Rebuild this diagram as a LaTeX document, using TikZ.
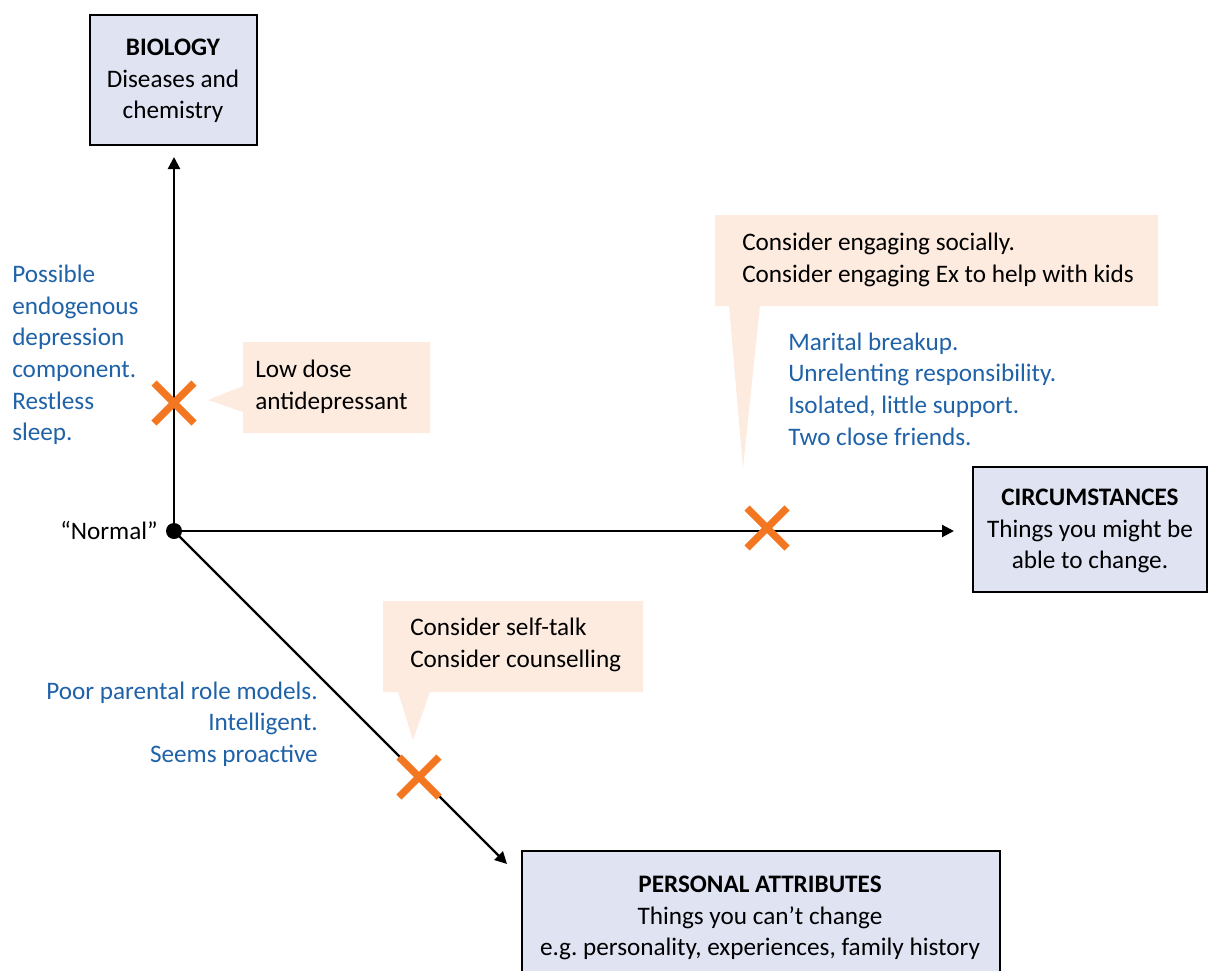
\documentclass[tikz,border=0pt]{standalone}
\usepackage{fontspec}
\setmainfont{Carlito}
\usetikzlibrary{arrows.meta,calc}
\definecolor{boxfill}{HTML}{DFE3F2}
\definecolor{callfill}{HTML}{FDEBDF}
\definecolor{xorange}{HTML}{F37621}
\definecolor{noteblue}{HTML}{1F62A8}
\tikzset{
  x=0.75pt, y=-0.75pt,
  txt/.style={font=\fontsize{18.9}{23.7}\selectfont, inner sep=0pt},
  catbox/.style={draw=black, line width=1.6pt, fill=boxfill},
  axis/.style={line width=1.6pt, -{Triangle[length=9pt,width=9pt]}},
  callout/.style={fill=callfill, draw=none},
  xmark/.style={draw=xorange, line width=5.5pt},
  note/.style={txt, text=noteblue, align=left},
}
\newcommand{\xcross}[1]{\draw[xmark] ($(#1)+(-20,-20)$) -- ($(#1)+(20,20)$) ($(#1)+(-20,20)$) -- ($(#1)+(20,-20)$);}
\begin{document}
\begin{tikzpicture}
\useasboundingbox (0,0) rectangle (1208,971);
% category boxes
\draw[catbox] (90,15) rectangle (257,145);
\node[txt, align=center] (bio) at (173,81) {\textbf{BIOLOGY}\\Diseases and\\chemistry};
\draw[catbox] (973,467) rectangle (1207,592);
\node[txt, align=center] (circ) at (1090,531) {\textbf{CIRCUMSTANCES}\\Things you might be\\able to change.};
\draw[catbox] (522,851) rectangle (1000,975);
\node[txt, align=center] (pers) at (760,918) {\textbf{PERSONAL ATTRIBUTES}\\Things you can’t change\\e.g.\ personality, experiences, family history};
% callouts
\path[callout] (243,342) -- (430,342) -- (430,433) -- (243,433) -- (243,412) -- (208,400) -- (243,386) -- cycle;
\path[callout] (715,215) -- (1158,215) -- (1158,306) -- (760,306) -- (743,468) -- (729,306) -- (715,306) -- cycle;
\path[callout] (383,601) -- (643,601) -- (643,692) -- (430,692) -- (413,740) -- (398,692) -- (383,692) -- cycle;
\node[txt, align=left, anchor=west] (c1) at (255,387) {Low dose\\antidepressant};
\node[txt, align=left, anchor=west] (c2) at (742,260) {Consider engaging socially.\\Consider engaging Ex to help with kids};
\node[txt, align=left, anchor=west] (c3) at (410,645) {Consider self-talk\\Consider counselling};
% axes
\node[circle, fill=black, inner sep=0pt, minimum size=12pt] (O) at (174,531) {};
\coordinate (bioTip) at (174,157);
\coordinate (circTip) at (954,531);
\coordinate (persTip) at (507,864);
\draw[axis] (O.center) -- (bioTip);
\draw[axis] (O.center) -- (circTip);
\draw[axis] (O.center) -- (persTip);
\node[txt, anchor=east] (normal) at (158,531) {“Normal”};
% crosses
\coordinate (x1) at (174,403);
\coordinate (x2) at (767,528);
\coordinate (x3) at (419,777);
\xcross{x1}
\xcross{x2}
\xcross{x3}
% notes
\node[note, anchor=west] (n1) at (12,355) {Possible\\endogenous\\depression\\component.\\Restless\\sleep.};
\node[note, anchor=west] (n2) at (788,389) {Marital breakup.\\Unrelenting responsibility.\\Isolated, little support.\\Two close friends.};
\node[note, align=right, anchor=east] (n3) at (318,724) {Poor parental role models.\\Intelligent.\\Seems proactive};
\end{tikzpicture}
\end{document}
